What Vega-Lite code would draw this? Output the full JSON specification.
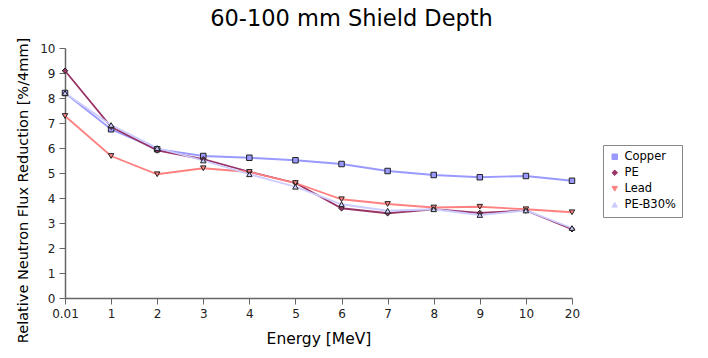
{
  "$schema": "https://vega.github.io/schema/vega-lite/v6.json",
  "autosize": {"type": "none"},
  "width": 507,
  "height": 250,
  "padding": {"left": 65, "top": 48, "right": 136, "bottom": 60},
  "background": "white",
  "config": {
    "font": "DejaVu Sans",
    "view": {"stroke": null},
    "legend": {
      "orient": "none",
      "legendX": 538,
      "legendY": 97,
      "strokeColor": "#888888",
      "fillColor": "#ffffff",
      "padding": 6,
      "labelFontSize": 11.5,
      "labelColor": "#000000",
      "symbolSize": 30,
      "symbolStrokeColor": "#222222",
      "symbolStrokeWidth": 1,
      "rowPadding": 3,
      "labelLimit": 90
    }
  },
  "title": {
    "text": "60-100 mm Shield Depth",
    "fontSize": 22.5,
    "fontWeight": "normal",
    "color": "#000000",
    "anchor": "middle",
    "frame": "group",
    "dx": 33,
    "offset": 7
  },
  "data": {
    "values": [
      {"energy": "0.01", "series": "Copper", "value": 8.2},
      {"energy": "1", "series": "Copper", "value": 6.75},
      {"energy": "2", "series": "Copper", "value": 5.95},
      {"energy": "3", "series": "Copper", "value": 5.68},
      {"energy": "4", "series": "Copper", "value": 5.61},
      {"energy": "5", "series": "Copper", "value": 5.51},
      {"energy": "6", "series": "Copper", "value": 5.36},
      {"energy": "7", "series": "Copper", "value": 5.08},
      {"energy": "8", "series": "Copper", "value": 4.92},
      {"energy": "9", "series": "Copper", "value": 4.83},
      {"energy": "10", "series": "Copper", "value": 4.88},
      {"energy": "20", "series": "Copper", "value": 4.69},
      {"energy": "0.01", "series": "PE", "value": 9.09},
      {"energy": "1", "series": "PE", "value": 6.85},
      {"energy": "2", "series": "PE", "value": 5.9},
      {"energy": "3", "series": "PE", "value": 5.55},
      {"energy": "4", "series": "PE", "value": 5.05},
      {"energy": "5", "series": "PE", "value": 4.6},
      {"energy": "6", "series": "PE", "value": 3.59},
      {"energy": "7", "series": "PE", "value": 3.39},
      {"energy": "8", "series": "PE", "value": 3.55},
      {"energy": "9", "series": "PE", "value": 3.4},
      {"energy": "10", "series": "PE", "value": 3.5},
      {"energy": "20", "series": "PE", "value": 2.75},
      {"energy": "0.01", "series": "Lead", "value": 7.28},
      {"energy": "1", "series": "Lead", "value": 5.68},
      {"energy": "2", "series": "Lead", "value": 4.95},
      {"energy": "3", "series": "Lead", "value": 5.19},
      {"energy": "4", "series": "Lead", "value": 5.04},
      {"energy": "5", "series": "Lead", "value": 4.6},
      {"energy": "6", "series": "Lead", "value": 3.95},
      {"energy": "7", "series": "Lead", "value": 3.76},
      {"energy": "8", "series": "Lead", "value": 3.62},
      {"energy": "9", "series": "Lead", "value": 3.65},
      {"energy": "10", "series": "Lead", "value": 3.55},
      {"energy": "20", "series": "Lead", "value": 3.43},
      {"energy": "0.01", "series": "PE-B30%", "value": 8.2},
      {"energy": "1", "series": "PE-B30%", "value": 6.92},
      {"energy": "2", "series": "PE-B30%", "value": 6.0},
      {"energy": "3", "series": "PE-B30%", "value": 5.5},
      {"energy": "4", "series": "PE-B30%", "value": 4.95},
      {"energy": "5", "series": "PE-B30%", "value": 4.45},
      {"energy": "6", "series": "PE-B30%", "value": 3.75},
      {"energy": "7", "series": "PE-B30%", "value": 3.49},
      {"energy": "8", "series": "PE-B30%", "value": 3.55},
      {"energy": "9", "series": "PE-B30%", "value": 3.32},
      {"energy": "10", "series": "PE-B30%", "value": 3.5},
      {"energy": "20", "series": "PE-B30%", "value": 2.8}
    ]
  },
  "encoding": {
    "x": {
      "field": "energy",
      "type": "ordinal",
      "sort": ["0.01", "1", "2", "3", "4", "5", "6", "7", "8", "9", "10", "20"],
      "scale": {"type": "point", "padding": 0},
      "axis": {
        "title": "Energy [MeV]",
        "titleFontSize": 15.5,
        "titleFontWeight": "normal",
        "titleColor": "#000000",
        "titlePadding": 12,
        "labelAngle": 0,
        "labelFontSize": 12,
        "labelColor": "#222222",
        "labelPadding": 4,
        "domainColor": "#666666",
        "domainWidth": 1.5,
        "tickColor": "#666666",
        "tickSize": 6,
        "grid": false
      }
    },
    "y": {
      "field": "value",
      "type": "quantitative",
      "scale": {"domain": [0, 10], "nice": false, "zero": true},
      "axis": {
        "title": "Relative Neutron Flux Reduction [%/4mm]",
        "titleFontSize": 14.5,
        "titleFontWeight": "normal",
        "titleColor": "#000000",
        "titleAngle": -90,
        "titleAlign": "center",
        "titleBaseline": "middle",
        "titleX": -42,
        "titleY": 142,
        "values": [0, 1, 2, 3, 4, 5, 6, 7, 8, 9, 10],
        "labelFontSize": 12,
        "labelColor": "#222222",
        "labelPadding": 4,
        "domainColor": "#666666",
        "domainWidth": 1.5,
        "tickColor": "#666666",
        "tickSize": 6,
        "grid": false
      }
    }
  },
  "layer": [
    {
      "mark": {"type": "line", "strokeWidth": 1.8},
      "encoding": {
        "color": {
          "field": "series",
          "type": "nominal",
          "scale": {"domain": ["Copper", "PE", "Lead", "PE-B30%"], "range": ["#9999ff", "#993366", "#ff8080", "#ccccff"]},
          "legend": {"title": null}
        }
      }
    },
    {
      "mark": {"type": "point", "filled": true, "stroke": "#222222", "strokeWidth": 1, "size": 30, "opacity": 1},
      "encoding": {
        "color": {
          "field": "series",
          "type": "nominal",
          "legend": {"title": null}
        },
        "shape": {
          "field": "series",
          "type": "nominal",
          "scale": {"domain": ["Copper", "PE", "Lead", "PE-B30%"], "range": ["square", "diamond", "triangle-down", "triangle-up"]},
          "legend": {"title": null}
        }
      }
    }
  ]
}
